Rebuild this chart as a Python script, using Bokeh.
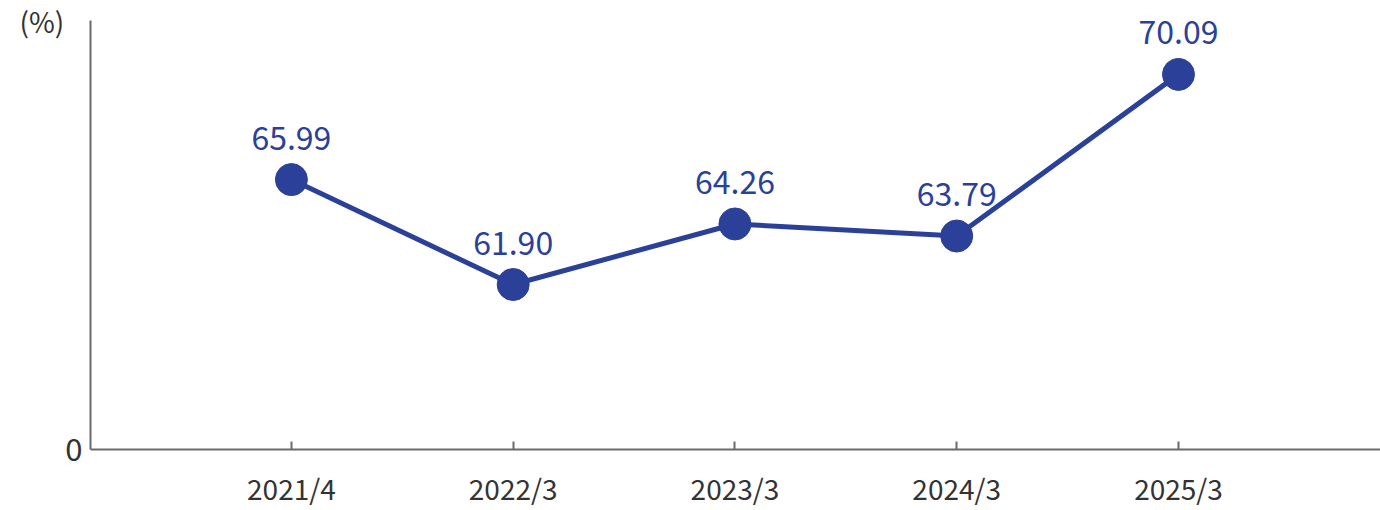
from bokeh.plotting import figure
from bokeh.models import (FixedTicker, CustomJSTickFormatter, ColumnDataSource,
                          LabelSet)
from bokeh.core.properties import value
from bokeh.embed import file_html
from bokeh.resources import INLINE

categories = ["2021/4", "2022/3", "2023/3", "2024/3", "2025/3"]
rates = [65.99, 61.90, 64.26, 63.79, 70.09]
rate_labels = ["65.99", "61.90", "64.26", "63.79", "70.09"]
unit_label = "(%)"

BLUE = "#2b4099"
GRAY = "#6b6b6b"
TEXT = "#333333"
FONT = "Noto Sans CJK JP"

xs = list(range(len(categories)))
src = ColumnDataSource(dict(x=xs, y=rates, lab=rate_labels))

y0 = 55.47
y1 = 72.19
p = figure(width=1380, height=510, output_backend="svg", toolbar_location=None,
           x_range=(-0.906, 4.911), y_range=(y0, y1),
           min_border_left=90, min_border_right=0, min_border_top=20,
           min_border_bottom=60)
p.outline_line_color = None
p.grid.grid_line_color = None
p.background_fill_color = "white"
p.border_fill_color = "white"

p.line("x", "y", source=src, line_color=BLUE, line_width=5)
p.scatter("x", "y", source=src, size=32, fill_color=BLUE, line_color=BLUE)

labels = LabelSet(x="x", y="y", text="lab", source=src, y_offset=42,
                  text_align="center", text_baseline="middle",
                  text_color=BLUE, text_font=value(FONT), text_font_size="32px")
p.add_layout(labels)

p.xaxis.ticker = FixedTicker(ticks=xs)
p.xaxis.major_label_overrides = {i: c for i, c in enumerate(categories)}
p.xaxis.major_tick_in = 8
p.xaxis.major_tick_out = 0
p.xaxis.minor_tick_line_color = None
p.xaxis.axis_line_color = GRAY
p.xaxis.axis_line_width = 2
p.xaxis.major_tick_line_color = GRAY
p.xaxis.major_tick_line_width = 2
p.xaxis.major_label_text_font = FONT
p.xaxis.major_label_text_font_size = "28px"
p.xaxis.major_label_text_color = TEXT
p.xaxis.major_label_standoff = 18

p.yaxis.ticker = FixedTicker(ticks=[y0])
p.yaxis.formatter = CustomJSTickFormatter(code="return '0';")
p.yaxis.major_tick_line_color = None
p.yaxis.minor_tick_line_color = None
p.yaxis.axis_line_color = GRAY
p.yaxis.axis_line_width = 2
p.yaxis.major_label_text_font = FONT
p.yaxis.major_label_text_font_size = "31px"
p.yaxis.major_label_text_color = TEXT
p.yaxis.major_label_standoff = 2
p.yaxis.axis_label = unit_label
p.yaxis.axis_label_orientation = "horizontal"
p.yaxis.axis_label_align = "end"
p.yaxis.axis_label_standoff = -2
p.yaxis.axis_label_text_font = FONT
p.yaxis.axis_label_text_font_size = "28px"
p.yaxis.axis_label_text_font_style = "normal"
p.yaxis.axis_label_text_color = TEXT

open("out.html", "w").write(file_html(p, INLINE))
